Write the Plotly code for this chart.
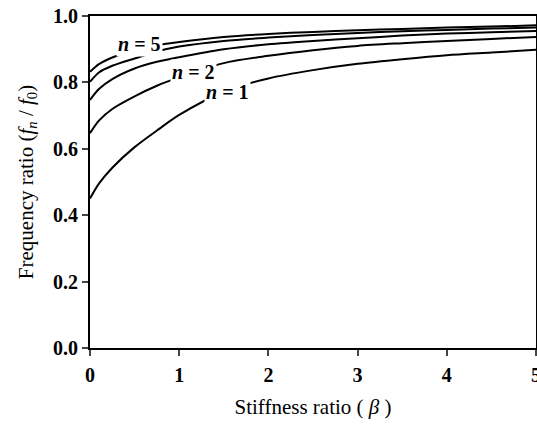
import plotly.graph_objects as go

beta = [0, 0.1, 0.25, 0.5, 0.75, 1, 1.5, 2, 2.5, 3, 3.5, 4, 4.5, 5]
n1 = [0.450, 0.495, 0.543, 0.605, 0.655, 0.702, 0.772, 0.812, 0.837, 0.856, 0.870, 0.882, 0.890, 0.898]
n2 = [0.647, 0.685, 0.720, 0.758, 0.790, 0.815, 0.858, 0.880, 0.897, 0.910, 0.918, 0.925, 0.931, 0.937]
n3 = [0.747, 0.780, 0.810, 0.842, 0.862, 0.876, 0.900, 0.915, 0.925, 0.933, 0.941, 0.947, 0.951, 0.955]
n4 = [0.802, 0.830, 0.850, 0.872, 0.893, 0.908, 0.925, 0.935, 0.943, 0.949, 0.954, 0.958, 0.962, 0.965]
n5 = [0.832, 0.855, 0.875, 0.897, 0.912, 0.922, 0.937, 0.946, 0.952, 0.957, 0.961, 0.965, 0.968, 0.972]

series = [("n=1", n1), ("n=2", n2), ("n=3", n3), ("n=4", n4), ("n=5", n5)]

labels = [("<i>n</i> = 5", 0.56, 0.917), ("<i>n</i> = 2", 1.155, 0.831), ("<i>n</i> = 1", 1.54, 0.771)]

x_ticks = [0, 1, 2, 3, 4, 5]
y_ticks = [0.0, 0.2, 0.4, 0.6, 0.8, 1.0]
y_tick_text = ["0.0", "0.2", "0.4", "0.6", "0.8", "1.0"]

FONT = "Liberation Serif"

fig = go.Figure()
for name, ys in series:
    fig.add_trace(go.Scatter(x=beta, y=ys, mode="lines", name=name,
                             line=dict(color="black", width=2, shape="spline", smoothing=0.8),
                             showlegend=False, hoverinfo="skip"))

for text, xv, yv in labels:
    fig.add_annotation(x=xv, y=yv, text=text, showarrow=False, bgcolor="white",
                       borderpad=1, font=dict(family=FONT, size=20, color="black", weight="bold"))

fig.update_layout(
    width=537, height=429,
    margin=dict(l=90, r=1, t=16, b=81),
    paper_bgcolor="white", plot_bgcolor="white",
    font=dict(family=FONT, color="black"),
)
fig.update_xaxes(range=[0, 5], tickvals=x_ticks, ticks="outside", ticklen=6, tickwidth=2,
                 showline=True, linewidth=2, linecolor="black", mirror=True, showgrid=False,
                 zeroline=False, ticklabelstandoff=2, ticklabeloverflow="allow", automargin=False,
                 tickfont=dict(family=FONT, size=20, weight="bold"),
                 title=dict(text="Stiffness ratio ( <i>β</i> )", font=dict(family=FONT, size=21), standoff=14))
fig.update_yaxes(range=[0, 1], tickvals=y_ticks, ticktext=y_tick_text, ticks="outside", ticklen=6, tickwidth=2,
                 showline=True, linewidth=2, linecolor="black", mirror=True, showgrid=False,
                 zeroline=False, ticklabeloverflow="allow", automargin=False,
                 tickfont=dict(family=FONT, size=20, weight="bold"),
                 title=dict(text="Frequency ratio (<i>f<sub>n</sub></i> / <i>f</i><sub>0</sub>)",
                            font=dict(family=FONT, size=21), standoff=14))

fig.write_html("out.html", config={"displayModeBar": False},
               post_script="document.body.style.margin='0';")
